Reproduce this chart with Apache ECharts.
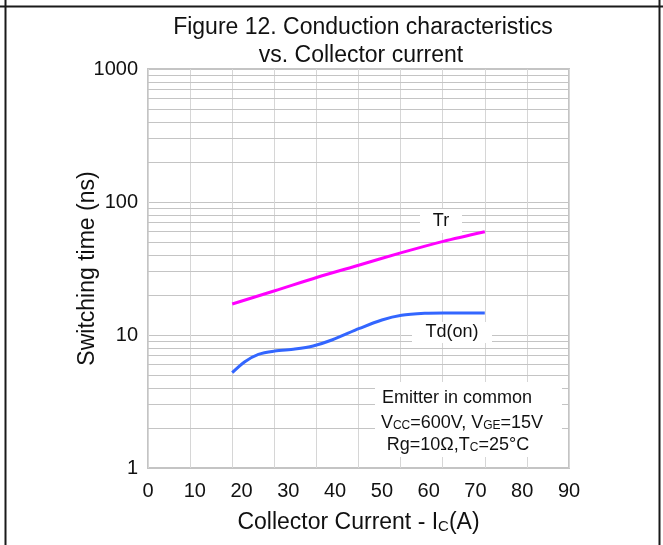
<!DOCTYPE html>
<html>
<head>
<meta charset="utf-8">
<script src="https://cdn.jsdelivr.net/npm/echarts@6/dist/echarts.min.js"></script>
<style>
html,body{margin:0;padding:0;background:#fff;}
#chart{width:663px;height:545px;}
</style>
</head>
<body>
<div id="chart"></div>
<script>
// ---- data ----
const xTickLabels = [0, 10, 20, 30, 40, 50, 60, 70, 80, 90];
const yTickLabels = [1, 10, 100, 1000];
const trX  = [18, 27.1, 36.2, 45.2, 54.2, 63.1, 72];
const trY  = [17.1, 21.5, 27.2, 33.6, 41.6, 50.6, 59.8];
const tdX  = [18, 20.7, 23.6, 27.1, 31.4, 35.3, 39.3, 45.2, 50, 54.2, 59.2, 63.1, 72];
const tdY  = [5.21, 6.3, 7.16, 7.58, 7.85, 8.27, 9.17, 11.2, 12.97, 14.07, 14.56, 14.64, 14.64];
const minorGrid = [2,3,4,5,6,7,8,9,20,30,40,50,60,70,80,90,200,300,400,500,600,700,800,900];

const FONT = 'Liberation Sans, Arial, sans-serif';
const chart = echarts.init(document.getElementById('chart'), null, {renderer: 'canvas'});

const pair = (xs, ys) => xs.map((x, i) => [x, ys[i]]);

const option = {
  animation: false,
  backgroundColor: '#ffffff',
  grid: {
    left: 148, top: 69, width: 421, height: 399,
    show: true, borderColor: '#c4c4c4', borderWidth: 2, backgroundColor: 'transparent'
  },
  xAxis: [
    {
      type: 'value', min: 0, max: 90, interval: 9, position: 'bottom',
      axisLine: {show: false}, axisTick: {show: false}, axisLabel: {show: false},
      splitLine: {show: true, lineStyle: {color: '#d6d6d6', width: 1}}
    },
    {
      type: 'value', min: 0, max: 90, interval: 10, position: 'bottom',
      axisLine: {show: false}, axisTick: {show: false},
      splitLine: {show: false},
      axisLabel: {
        show: true, margin: 13, fontSize: 20, color: '#111', fontFamily: FONT,
        formatter: v => xTickLabels.indexOf(v) >= 0 ? String(v) : ''
      },
      name: 'Collector Current - I{sub|C}(A)',
      nameLocation: 'middle', nameGap: 43, nameMoveOverlap: false,
      nameTextStyle: {
        fontSize: 23, color: '#111', fontFamily: FONT,
        rich: {sub: {fontSize: 15, color: '#111', fontFamily: FONT, verticalAlign: 'bottom', lineHeight: 14}}
      }
    }
  ],
  yAxis: {
    type: 'log', logBase: 10, min: 1, max: 1000,
    axisLine: {show: false}, axisTick: {show: false},
    axisLabel: {
      margin: 10, fontSize: 20, color: '#111', fontFamily: FONT,
      formatter: v => yTickLabels.indexOf(Math.round(v)) >= 0 ? String(Math.round(v)) : ''
    },
    splitLine: {show: true, lineStyle: {color: '#c4c4c4', width: 1}},
    name: 'Switching time (ns)', nameLocation: 'middle', nameGap: 49, nameMoveOverlap: false,
    nameTextStyle: {fontSize: 23, color: '#111', fontFamily: FONT}
  },
  series: [
    {
      type: 'line', name: 'grid', data: [], z: 1, silent: true,
      markLine: {
        silent: true, symbol: ['none', 'none'], animation: false,
        label: {show: false},
        lineStyle: {color: '#c4c4c4', width: 1, type: 'solid'},
        emphasis: {disabled: true},
        data: minorGrid.map(v => ({yAxis: v}))
      }
    },
    {
      type: 'line', name: 'Tr', data: pair(trX, trY), smooth: 0.3,
      showSymbol: false, symbol: 'none', z: 5,
      lineStyle: {color: '#ff00ff', width: 3}
    },
    {
      type: 'line', name: 'Td(on)', data: pair(tdX, tdY), smooth: 0.3,
      showSymbol: false, symbol: 'none', z: 5,
      lineStyle: {color: '#3366ff', width: 3}
    }
  ],
  graphic: [
    // outer frame
    {type: 'line', z: 100, shape: {x1: 0, y1: 6.5, x2: 663, y2: 6.5}, style: {stroke: '#1a1a1a', lineWidth: 2}},
    {type: 'line', z: 100, shape: {x1: 5.5, y1: 0, x2: 5.5, y2: 545}, style: {stroke: '#1a1a1a', lineWidth: 2}},
    {type: 'line', z: 100, shape: {x1: 659.5, y1: 0, x2: 659.5, y2: 545}, style: {stroke: '#1a1a1a', lineWidth: 2}},
    // title
    {type: 'text', z: 100, x: 363, y: 28, style: {text: 'Figure 12. Conduction characteristics', fontSize: 23, fontFamily: FONT, fill: '#111', align: 'center', verticalAlign: 'middle'}},
    {type: 'text', z: 100, x: 361, y: 56, style: {text: 'vs. Collector current', fontSize: 23, fontFamily: FONT, fill: '#111', align: 'center', verticalAlign: 'middle'}},
    // curve labels
    {type: 'rect', z: 100, shape: {x: 420, y: 209, width: 42, height: 24}, style: {fill: '#fff'}},
    {type: 'text', z: 101, x: 441, y: 221, style: {text: 'Tr', fontSize: 18, fontFamily: FONT, fill: '#111', align: 'center', verticalAlign: 'middle'}},
    {type: 'rect', z: 100, shape: {x: 412, y: 322, width: 80, height: 21}, style: {fill: '#fff'}},
    {type: 'text', z: 101, x: 452, y: 332, style: {text: 'Td(on)', fontSize: 18, fontFamily: FONT, fill: '#111', align: 'center', verticalAlign: 'middle'}},
    // conditions box
    {type: 'rect', z: 100, shape: {x: 375, y: 382, width: 187, height: 75}, style: {fill: '#fff'}},
    {type: 'text', z: 101, x: 457, y: 398, style: {text: 'Emitter in common', fontSize: 18, fontFamily: FONT, fill: '#111', align: 'center', verticalAlign: 'middle'}},
    {type: 'text', z: 101, x: 462, y: 421, style: {
      text: '{n|V}{s|CC}{n|=600V, V}{s|GE}{n|=15V}', align: 'center', verticalAlign: 'middle',
      rich: {
        n: {fontSize: 18, fontFamily: FONT, fill: '#111', color: '#111', lineHeight: 22, verticalAlign: 'bottom'},
        s: {fontSize: 12, fontFamily: FONT, fill: '#111', color: '#111', lineHeight: 12, verticalAlign: 'bottom'}
      }
    }},
    {type: 'text', z: 101, x: 458, y: 443, style: {
      text: '{n|Rg=10Ω,T}{s|C}{n|=25°C}', align: 'center', verticalAlign: 'middle',
      rich: {
        n: {fontSize: 18, fontFamily: FONT, fill: '#111', color: '#111', lineHeight: 22, verticalAlign: 'bottom'},
        s: {fontSize: 12, fontFamily: FONT, fill: '#111', color: '#111', lineHeight: 12, verticalAlign: 'bottom'}
      }
    }}
  ]
};
chart.setOption(option);
</script>
</body>
</html>
